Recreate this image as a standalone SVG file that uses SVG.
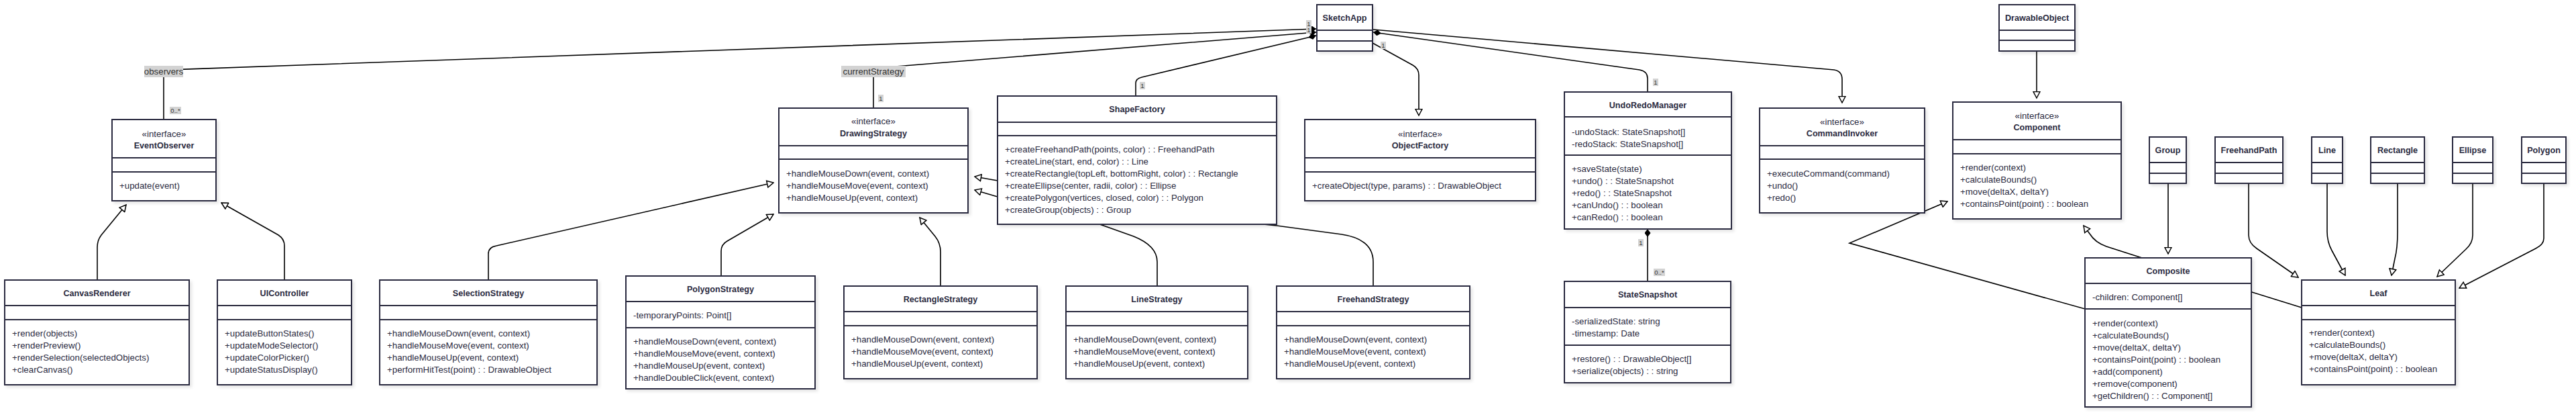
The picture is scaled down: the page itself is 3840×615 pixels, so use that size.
<svg xmlns="http://www.w3.org/2000/svg" width="3840" height="615" viewBox="0 0 3840 615">
<style>
text{font-family:"Liberation Sans",Arial,sans-serif;fill:#2b2b3f}
.node rect{fill:#fff;stroke:#2b2b3f;stroke-width:2;filter:url(#sh)}
.node line{stroke:#2b2b3f;stroke-width:2}
.t{font-weight:bold;font-size:12.6px;text-anchor:middle;dominant-baseline:central}
.st{font-size:13.3px;text-anchor:middle;dominant-baseline:central}
.m{font-size:13.3px;dominant-baseline:central}
.edge{fill:none;stroke:#000;stroke-width:1.6}
.lb{fill:#d3d3d3}
.lt{font-size:13.3px;text-anchor:middle;dominant-baseline:central;fill:#333}
.ct{font-size:9.5px;text-anchor:middle;dominant-baseline:central;fill:#333}
</style>
<defs>
<filter id="sh" x="-5%" y="-5%" width="115%" height="120%"><feDropShadow dx="3" dy="3" stdDeviation="2" flood-color="#000" flood-opacity="0.1"/></filter>
<marker id="dia" viewBox="0 0 12 9" refX="12" refY="4.5" markerWidth="12" markerHeight="9" markerUnits="userSpaceOnUse" orient="auto"><path d="M0,4.5 L6,0 L12,4.5 L6,9 Z" fill="#000"/></marker>
<marker id="tri" viewBox="0 0 12 12" refX="10.5" refY="6" markerWidth="12" markerHeight="12" markerUnits="userSpaceOnUse" orient="auto"><path d="M1,1 L10.5,6 L1,11 Z" fill="#fff" stroke="#000" stroke-width="1.5"/></marker>
</defs>
<rect width="3840" height="615" fill="#fff"/>
<g id="connectors">
<path class="edge" d="M244,178 L244,108 Q244,104 250,104 L1962,43" marker-end="url(#dia)"/>
<path class="edge" d="M1302,161 L1302,108 Q1302,102 1310,101 L1962,48" marker-end="url(#dia)"/>
<path class="edge" d="M1693,143 L1693,124 Q1693,117 1702,115 L1962,53" marker-end="url(#dia)"/>
<path class="edge" d="M2046,64 L2106,97 Q2115,102 2115,112 L2115,172" marker-end="url(#tri)"/>
<path class="edge" d="M2456,137 L2456,117 Q2456,106 2444,104 L2047,48" marker-end="url(#dia)"/>
<path class="edge" d="M2047,44 L2734,104 Q2746,106 2746,118 L2746,153" marker-end="url(#tri)"/>
<path class="edge" d="M2456,419 L2456,341" marker-end="url(#dia)"/>
<path class="edge" d="M145,417 L145,368 Q145,358 151,350 L188,305" marker-end="url(#tri)"/>
<path class="edge" d="M424,417 L424,366 Q424,356 415,350 L330,302" marker-end="url(#tri)"/>
<path class="edge" d="M728,417 L728,378 Q728,368 740,366 L1153,272" marker-end="url(#tri)"/>
<path class="edge" d="M1075,411 L1075,374 Q1075,364 1084,359 L1153,319" marker-end="url(#tri)"/>
<path class="edge" d="M1402,426 L1402,375 Q1402,362 1394,352 L1371,324" marker-end="url(#tri)"/>
<path class="edge" d="M1725,426 L1725,390 Q1725,366 1690,352 L1600,320 L1487,269 L1453,263" marker-end="url(#tri)"/>
<path class="edge" d="M2047,426 L2047,390 Q2047,356 2000,349 L1903,336 L1487,293 L1453,283" marker-end="url(#tri)"/>
<path class="edge" d="M3036,76 L3036,146" marker-end="url(#tri)"/>
<path class="edge" d="M3232,273 L3232,378" marker-end="url(#tri)"/>
<path class="edge" d="M3352,273 L3352,350 Q3352,362 3364,370 L3426,413" marker-end="url(#tri)"/>
<path class="edge" d="M3469,273 L3469,345 Q3469,360 3476,373 L3496,410" marker-end="url(#tri)"/>
<path class="edge" d="M3574,273 L3574,345 Q3574,370 3570,385 L3565,410" marker-end="url(#tri)"/>
<path class="edge" d="M3686,273 L3686,350 Q3686,362 3676,371 L3633,412" marker-end="url(#tri)"/>
<path class="edge" d="M3792,273 L3792,355 Q3792,364 3780,370 L3666,429" marker-end="url(#tri)"/>
<path class="edge" d="M3193,384 L3140,367 Q3123,361 3115,348 L3106,336" marker-end="url(#tri)"/>
<path class="edge" d="M3431,458 L3357,435 L3108,460 L2757,362 L2903,300" marker-end="url(#tri)"/>
<rect class="lb" x="215" y="98" width="58" height="17"/><text class="lt" x="244" y="106.5">observers</text>
<rect class="lb" x="253" y="159" width="17" height="11"/><text class="ct" x="261.5" y="164.5">0..*</text>
<rect class="lb" x="1254" y="98" width="96" height="17"/><text class="lt" x="1302" y="106.5">currentStrategy</text>
<rect class="lb" x="1309" y="141" width="8" height="11"/><text class="ct" x="1313" y="146.5">1</text>
<rect class="lb" x="1699" y="122" width="8" height="11"/><text class="ct" x="1703" y="127.5">1</text>
<rect class="lb" x="1947" y="30" width="8" height="11"/><text class="ct" x="1951" y="35.5">1</text>
<rect class="lb" x="1947" y="39" width="8" height="11"/><text class="ct" x="1951" y="44.5">1</text>
<rect class="lb" x="2058" y="62" width="8" height="11"/><text class="ct" x="2062" y="67.5">1</text>
<rect class="lb" x="2464" y="117" width="8" height="11"/><text class="ct" x="2468" y="122.5">1</text>
<rect class="lb" x="2442" y="356" width="8" height="11"/><text class="ct" x="2446" y="361.5">1</text>
<rect class="lb" x="2465" y="400" width="17" height="11"/><text class="ct" x="2473.5" y="405.5">0..*</text>
</g>
<g id="n-SketchApp" class="node"><rect x="1963" y="7" width="83" height="69"/><line x1="1963" y1="45" x2="2046" y2="45"/><line x1="1963" y1="61" x2="2046" y2="61"/><text class="t" x="2004.5" y="27">SketchApp</text></g>
<g id="n-DrawableObject" class="node"><rect x="2980" y="7" width="113" height="69"/><line x1="2980" y1="45" x2="3093" y2="45"/><line x1="2980" y1="60" x2="3093" y2="60"/><text class="t" x="3036.5" y="27">DrawableObject</text></g>
<g id="n-Group" class="node"><rect x="3204" y="204" width="55" height="69"/><line x1="3204" y1="242" x2="3259" y2="242"/><line x1="3204" y1="258" x2="3259" y2="258"/><text class="t" x="3231.5" y="224">Group</text></g>
<g id="n-FreehandPath" class="node"><rect x="3302" y="204" width="101" height="69"/><line x1="3302" y1="242" x2="3403" y2="242"/><line x1="3302" y1="258" x2="3403" y2="258"/><text class="t" x="3352.5" y="224">FreehandPath</text></g>
<g id="n-Line" class="node"><rect x="3446" y="204" width="46" height="69"/><line x1="3446" y1="242" x2="3492" y2="242"/><line x1="3446" y1="258" x2="3492" y2="258"/><text class="t" x="3469" y="224">Line</text></g>
<g id="n-Rectangle" class="node"><rect x="3534" y="204" width="80" height="69"/><line x1="3534" y1="242" x2="3614" y2="242"/><line x1="3534" y1="258" x2="3614" y2="258"/><text class="t" x="3574" y="224">Rectangle</text></g>
<g id="n-Ellipse" class="node"><rect x="3656" y="204" width="60" height="69"/><line x1="3656" y1="242" x2="3716" y2="242"/><line x1="3656" y1="258" x2="3716" y2="258"/><text class="t" x="3686" y="224">Ellipse</text></g>
<g id="n-Polygon" class="node"><rect x="3759" y="204" width="66" height="69"/><line x1="3759" y1="242" x2="3825" y2="242"/><line x1="3759" y1="258" x2="3825" y2="258"/><text class="t" x="3792" y="224">Polygon</text></g>
<g id="n-EventObserver" class="node"><rect x="167" y="178" width="155" height="121"/><line x1="167" y1="235" x2="322" y2="235"/><line x1="167" y1="256" x2="322" y2="256"/><text class="st" x="244.5" y="199">«interface»</text><text class="t" x="244.5" y="217">EventObserver</text><text class="m" x="178" y="276">+update(event)</text></g>
<g id="n-CanvasRenderer" class="node"><rect x="7" y="417" width="275" height="156"/><line x1="7" y1="455" x2="282" y2="455"/><line x1="7" y1="476" x2="282" y2="476"/><text class="t" x="144.5" y="437">CanvasRenderer</text><text class="m" x="18" y="496">+render(objects)</text><text class="m" x="18" y="514">+renderPreview()</text><text class="m" x="18" y="532">+renderSelection(selectedObjects)</text><text class="m" x="18" y="550">+clearCanvas()</text></g>
<g id="n-UIController" class="node"><rect x="324" y="417" width="200" height="156"/><line x1="324" y1="455" x2="524" y2="455"/><line x1="324" y1="476" x2="524" y2="476"/><text class="t" x="424" y="437">UIController</text><text class="m" x="335" y="496">+updateButtonStates()</text><text class="m" x="335" y="514">+updateModeSelector()</text><text class="m" x="335" y="532">+updateColorPicker()</text><text class="m" x="335" y="550">+updateStatusDisplay()</text></g>
<g id="n-SelectionStrategy" class="node"><rect x="566" y="417" width="324" height="156"/><line x1="566" y1="455" x2="890" y2="455"/><line x1="566" y1="476" x2="890" y2="476"/><text class="t" x="728" y="437">SelectionStrategy</text><text class="m" x="577" y="496">+handleMouseDown(event, context)</text><text class="m" x="577" y="514">+handleMouseMove(event, context)</text><text class="m" x="577" y="532">+handleMouseUp(event, context)</text><text class="m" x="577" y="550">+performHitTest(point) : : DrawableObject</text></g>
<g id="n-PolygonStrategy" class="node"><rect x="933" y="411" width="282" height="168"/><line x1="933" y1="449" x2="1215" y2="449"/><line x1="933" y1="488" x2="1215" y2="488"/><text class="t" x="1074" y="431">PolygonStrategy</text><text class="m" x="944" y="469">-temporaryPoints: Point[]</text><text class="m" x="944" y="508">+handleMouseDown(event, context)</text><text class="m" x="944" y="526">+handleMouseMove(event, context)</text><text class="m" x="944" y="544">+handleMouseUp(event, context)</text><text class="m" x="944" y="562">+handleDoubleClick(event, context)</text></g>
<g id="n-DrawingStrategy" class="node"><rect x="1161" y="161" width="282" height="156"/><line x1="1161" y1="217" x2="1443" y2="217"/><line x1="1161" y1="237" x2="1443" y2="237"/><text class="st" x="1302" y="180">«interface»</text><text class="t" x="1302" y="199">DrawingStrategy</text><text class="m" x="1172" y="258">+handleMouseDown(event, context)</text><text class="m" x="1172" y="276">+handleMouseMove(event, context)</text><text class="m" x="1172" y="294">+handleMouseUp(event, context)</text></g>
<g id="n-ShapeFactory" class="node"><rect x="1487" y="143" width="416" height="191"/><line x1="1487" y1="182" x2="1903" y2="182"/><line x1="1487" y1="202" x2="1903" y2="202"/><text class="t" x="1695" y="163">ShapeFactory</text><text class="m" x="1498" y="222">+createFreehandPath(points, color) : : FreehandPath</text><text class="m" x="1498" y="240">+createLine(start, end, color) : : Line</text><text class="m" x="1498" y="258">+createRectangle(topLeft, bottomRight, color) : : Rectangle</text><text class="m" x="1498" y="276">+createEllipse(center, radii, color) : : Ellipse</text><text class="m" x="1498" y="294">+createPolygon(vertices, closed, color) : : Polygon</text><text class="m" x="1498" y="312">+createGroup(objects) : : Group</text></g>
<g id="n-RectangleStrategy" class="node"><rect x="1258" y="426" width="288" height="138"/><line x1="1258" y1="464" x2="1546" y2="464"/><line x1="1258" y1="485" x2="1546" y2="485"/><text class="t" x="1402" y="446">RectangleStrategy</text><text class="m" x="1269" y="505">+handleMouseDown(event, context)</text><text class="m" x="1269" y="523">+handleMouseMove(event, context)</text><text class="m" x="1269" y="541">+handleMouseUp(event, context)</text></g>
<g id="n-LineStrategy" class="node"><rect x="1589" y="426" width="271" height="138"/><line x1="1589" y1="464" x2="1860" y2="464"/><line x1="1589" y1="485" x2="1860" y2="485"/><text class="t" x="1724.5" y="446">LineStrategy</text><text class="m" x="1600" y="505">+handleMouseDown(event, context)</text><text class="m" x="1600" y="523">+handleMouseMove(event, context)</text><text class="m" x="1600" y="541">+handleMouseUp(event, context)</text></g>
<g id="n-FreehandStrategy" class="node"><rect x="1903" y="426" width="288" height="138"/><line x1="1903" y1="464" x2="2191" y2="464"/><line x1="1903" y1="485" x2="2191" y2="485"/><text class="t" x="2047" y="446">FreehandStrategy</text><text class="m" x="1914" y="505">+handleMouseDown(event, context)</text><text class="m" x="1914" y="523">+handleMouseMove(event, context)</text><text class="m" x="1914" y="541">+handleMouseUp(event, context)</text></g>
<g id="n-ObjectFactory" class="node"><rect x="1945" y="178" width="344" height="121"/><line x1="1945" y1="235" x2="2289" y2="235"/><line x1="1945" y1="256" x2="2289" y2="256"/><text class="st" x="2117" y="199">«interface»</text><text class="t" x="2117" y="217">ObjectFactory</text><text class="m" x="1956" y="276">+createObject(type, params) : : DrawableObject</text></g>
<g id="n-UndoRedoManager" class="node"><rect x="2332" y="137" width="249" height="204"/><line x1="2332" y1="174" x2="2581" y2="174"/><line x1="2332" y1="231" x2="2581" y2="231"/><text class="t" x="2456.5" y="157">UndoRedoManager</text><text class="m" x="2343" y="196">-undoStack: StateSnapshot[]</text><text class="m" x="2343" y="214">-redoStack: StateSnapshot[]</text><text class="m" x="2343" y="251">+saveState(state)</text><text class="m" x="2343" y="269">+undo() : : StateSnapshot</text><text class="m" x="2343" y="287">+redo() : : StateSnapshot</text><text class="m" x="2343" y="305">+canUndo() : : boolean</text><text class="m" x="2343" y="323">+canRedo() : : boolean</text></g>
<g id="n-StateSnapshot" class="node"><rect x="2332" y="419" width="248" height="151"/><line x1="2332" y1="458" x2="2580" y2="458"/><line x1="2332" y1="514" x2="2580" y2="514"/><text class="t" x="2456" y="439">StateSnapshot</text><text class="m" x="2343" y="478">-serializedState: string</text><text class="m" x="2343" y="496">-timestamp: Date</text><text class="m" x="2343" y="534">+restore() : : DrawableObject[]</text><text class="m" x="2343" y="552">+serialize(objects) : : string</text></g>
<g id="n-CommandInvoker" class="node"><rect x="2623" y="161" width="246" height="156"/><line x1="2623" y1="217" x2="2869" y2="217"/><line x1="2623" y1="237" x2="2869" y2="237"/><text class="st" x="2746" y="181">«interface»</text><text class="t" x="2746" y="199">CommandInvoker</text><text class="m" x="2634" y="258">+executeCommand(command)</text><text class="m" x="2634" y="276">+undo()</text><text class="m" x="2634" y="294">+redo()</text></g>
<g id="n-Component" class="node"><rect x="2911" y="152" width="251" height="174"/><line x1="2911" y1="208" x2="3162" y2="208"/><line x1="2911" y1="229" x2="3162" y2="229"/><text class="st" x="3036.5" y="172">«interface»</text><text class="t" x="3036.5" y="190">Component</text><text class="m" x="2922" y="249">+render(context)</text><text class="m" x="2922" y="267">+calculateBounds()</text><text class="m" x="2922" y="285">+move(deltaX, deltaY)</text><text class="m" x="2922" y="303">+containsPoint(point) : : boolean</text></g>
<g id="n-Composite" class="node"><rect x="3108" y="384" width="248" height="222"/><line x1="3108" y1="422" x2="3356" y2="422"/><line x1="3108" y1="460" x2="3356" y2="460"/><text class="t" x="3232" y="404">Composite</text><text class="m" x="3119" y="442">-children: Component[]</text><text class="m" x="3119" y="481">+render(context)</text><text class="m" x="3119" y="499">+calculateBounds()</text><text class="m" x="3119" y="517">+move(deltaX, deltaY)</text><text class="m" x="3119" y="535">+containsPoint(point) : : boolean</text><text class="m" x="3119" y="553">+add(component)</text><text class="m" x="3119" y="571">+remove(component)</text><text class="m" x="3119" y="589">+getChildren() : : Component[]</text></g>
<g id="n-Leaf" class="node"><rect x="3431" y="417" width="229" height="156"/><line x1="3431" y1="455" x2="3660" y2="455"/><line x1="3431" y1="476" x2="3660" y2="476"/><text class="t" x="3545.5" y="437">Leaf</text><text class="m" x="3442" y="495">+render(context)</text><text class="m" x="3442" y="513">+calculateBounds()</text><text class="m" x="3442" y="531">+move(deltaX, deltaY)</text><text class="m" x="3442" y="549">+containsPoint(point) : : boolean</text></g>
</svg>
